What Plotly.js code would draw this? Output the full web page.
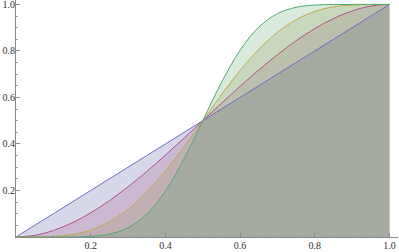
<!DOCTYPE html>
<html><head><meta charset="utf-8">
<script src="https://cdn.plot.ly/plotly-3.0.1.min.js"></script>
<style>html,body{margin:0;padding:0;background:#fff}#chart{width:399px;height:252px}</style>
</head><body><div id="chart"></div>
<script>
const xs = [0,0.05,0.1,0.15,0.2,0.25,0.3,0.35,0.4,0.45,0.5,0.55,0.6,0.65,0.7,0.75,0.8,0.85,0.9,0.95,1];
const blueY   = [0,0.05,0.1,0.15,0.2,0.25,0.3,0.35,0.4,0.45,0.5,0.55,0.6,0.65,0.7,0.75,0.8,0.85,0.9,0.95,1];
const purpleY = [0,0.0073,0.028,0.0608,0.104,0.1563,0.216,0.2818,0.352,0.4253,0.5,0.5748,0.648,0.7183,0.784,0.8438,0.896,0.9393,0.972,0.9928,1];
const yellowY = [0,0.0002,0.0023,0.0106,0.0302,0.0656,0.1198,0.1934,0.2845,0.3887,0.5,0.6113,0.7155,0.8066,0.8802,0.9344,0.9698,0.9894,0.9977,0.9998,1];
const greenY  = [0,0,0,0.0003,0.0027,0.0123,0.0396,0.0977,0.1968,0.3358,0.5,0.6642,0.8032,0.9023,0.9604,0.9877,0.9973,0.9997,1,1,1];
const seriesY = [blueY, purpleY, yellowY, greenY];
const lineColors = ['rgb(110,110,200)','rgb(180,80,140)','rgb(190,170,80)','rgb(80,170,110)'];
const fillColors = ['rgba(61,61,153,0.2)','rgba(153,61,113,0.2)','rgba(153,139,61,0.2)','rgba(61,153,86,0.2)'];
const xTicks = [0.2,0.4,0.6,0.8,1.0];
const xTickText = ['0.2','0.4','0.6','0.8','1.0'];
const yTicks = [0.2,0.4,0.6,0.8,1.0];
const yTickText = ['0.2','0.4','0.6','0.8','1.0'];

const traces = [];
seriesY.forEach((ys,i)=>{
  traces.push({x:xs,y:ys,type:'scatter',mode:'lines',fill:'tozeroy',fillcolor:fillColors[i],
    line:{width:0,shape:'spline',smoothing:1,color:lineColors[i]},hoverinfo:'skip'});
});
seriesY.forEach((ys,i)=>{
  traces.push({x:xs,y:ys,type:'scatter',mode:'lines',
    line:{width:1,shape:'spline',smoothing:1,color:lineColors[i]},hoverinfo:'skip'});
});
const axisCommon = {showgrid:false,zeroline:false,showline:true,linecolor:'#8a8a8a',linewidth:1,
  ticks:'inside',ticklen:4,tickcolor:'#8a8a8a',tickwidth:1,automargin:false,ticklabeloverflow:'allow',
  tickfont:{family:'Liberation Serif',size:10,color:'#333'},
  minor:{dtick:0.05,ticks:'inside',ticklen:2,tickcolor:'#9a9a9a',showgrid:false}};
const layout = {
  width:399,height:252,margin:{l:16,r:1,t:0,b:15},
  font:{family:'Liberation Serif'},
  paper_bgcolor:'#fff',plot_bgcolor:'#fff',showlegend:false,
  xaxis:Object.assign({},axisCommon,{range:[0,1.0228],tickvals:xTicks,ticktext:xTickText,ticklabelstandoff:-1}),
  yaxis:Object.assign({},axisCommon,{range:[0,1.019],tickvals:yTicks,ticktext:yTickText,ticklabelstandoff:-2})
};
Plotly.newPlot('chart',traces,layout,{displayModeBar:false,staticPlot:true});
</script></body></html>
